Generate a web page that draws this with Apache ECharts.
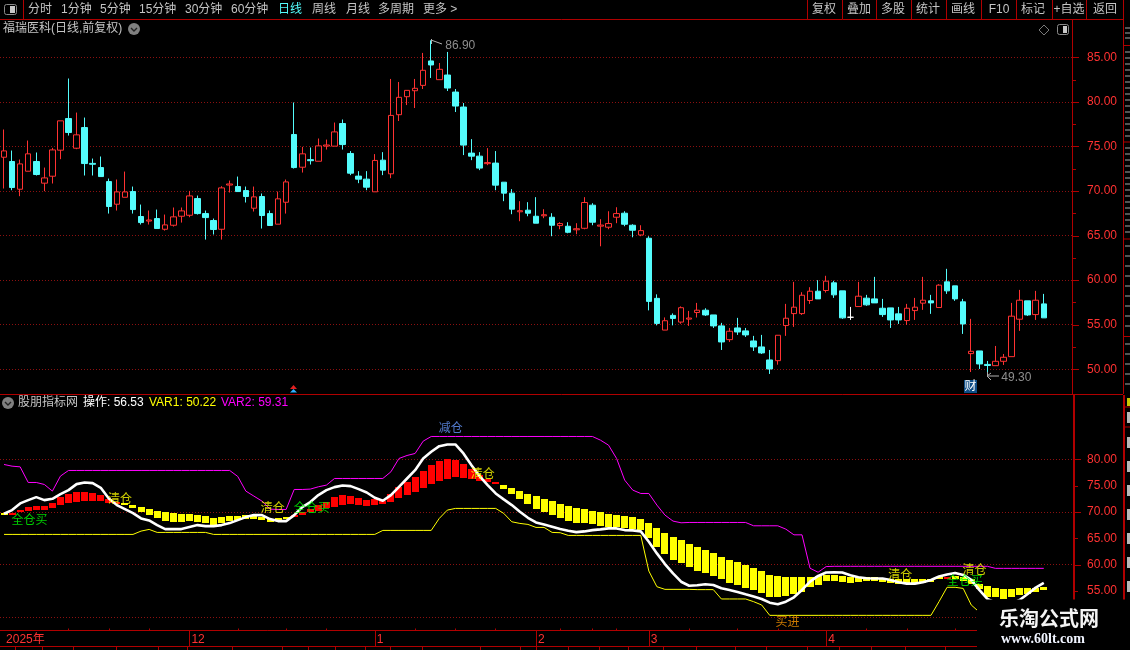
<!DOCTYPE html>
<html><head><meta charset="utf-8">
<style>html,body{margin:0;padding:0;background:#000}#c{width:1130px;height:650px}</style>
<script src="https://cdn.jsdelivr.net/npm/echarts@6/dist/echarts.min.js"></script>
</head><body><div id="c"></div>
<script>
const opens=[73.79,73.31,70.20,72.22,73.31,70.88,71.66,74.58,78.13,74.80,77.12,73.10,72.63,71.06,68.52,69.30,69.94,67.14,66.63,66.91,65.71,66.16,67.17,67.28,69.15,67.47,66.69,65.71,70.67,70.50,70.05,68.07,69.38,67.47,66.28,68.74,76.34,72.67,73.52,73.34,75.04,75.03,77.57,74.21,71.67,71.33,69.91,73.46,71.93,78.56,80.58,81.25,81.85,84.59,82.49,83.01,81.10,79.42,74.25,73.91,73.07,73.13,70.99,69.76,67.67,67.85,67.17,67.22,67.06,66.12,66.05,65.65,65.82,68.41,66.06,65.94,67.06,67.51,66.16,65.07,64.70,57.96,54.40,56.05,55.30,55.63,56.37,56.63,56.10,54.87,53.33,54.64,54.31,53.18,52.51,51.05,50.97,54.91,56.25,56.25,57.72,58.76,58.84,59.70,58.80,55.84,57.04,57.98,57.90,56.85,56.89,56.22,55.47,56.59,57.42,57.68,56.93,59.81,59.36,57.57,51.76,52.06,50.55,50.41,50.90,51.42,55.62,57.68,56.14,57.34];
const closes=[74.50,70.39,73.04,74.17,71.85,71.47,74.61,77.87,76.56,76.30,73.08,73.00,71.62,68.26,69.90,69.90,67.92,66.46,66.75,65.79,66.20,67.10,67.77,69.45,67.47,67.02,65.68,70.35,70.79,69.94,69.38,69.34,67.25,66.13,69.12,71.02,72.63,74.17,73.40,75.06,75.16,76.63,75.21,72.00,71.33,70.43,73.43,72.34,78.48,80.51,81.29,81.52,83.54,84.14,83.65,81.55,79.53,75.15,73.91,72.57,73.19,70.66,69.76,67.96,67.79,67.51,66.39,67.34,66.16,66.35,65.37,65.77,68.71,66.50,66.18,66.35,67.47,66.27,65.60,65.56,57.62,55.15,55.45,55.71,56.91,55.75,56.63,56.10,54.87,53.07,54.27,54.19,53.86,52.51,51.84,50.04,53.82,55.73,56.97,58.31,58.76,57.90,59.89,58.35,55.77,55.84,58.20,57.23,57.45,56.14,55.54,55.54,56.85,56.97,57.75,57.45,59.44,58.80,57.90,55.09,52.02,50.60,50.43,50.90,51.35,55.96,57.75,56.10,57.75,55.77];
const lows=[70.28,70.09,69.42,72.22,71.74,69.98,70.84,73.57,76.22,74.69,71.74,71.74,71.62,67.47,67.81,69.30,67.47,66.24,66.24,65.79,65.56,66.01,66.46,67.06,67.36,64.55,65.12,64.55,69.83,69.94,68.71,67.70,65.79,66.13,66.28,67.47,72.52,72.07,72.97,73.34,74.65,75.03,74.65,71.78,70.88,70.09,69.91,71.78,71.44,77.85,79.64,79.31,81.44,82.68,82.49,81.22,78.86,74.03,73.46,72.34,72.90,70.09,68.86,67.40,66.61,67.17,66.39,66.95,64.93,65.71,65.26,65.15,65.71,66.16,63.80,65.71,66.39,66.05,64.81,64.93,56.61,54.93,54.40,54.93,55.11,54.87,55.81,55.99,54.64,52.17,53.07,53.86,53.63,52.06,51.72,49.48,50.52,53.75,54.76,56.10,57.34,57.90,58.61,58.01,55.66,55.54,57.04,57.12,57.45,55.88,54.64,55.09,54.98,55.54,56.67,56.22,56.93,58.46,57.68,53.97,49.70,50.04,49.30,50.41,50.49,51.42,54.31,55.99,55.54,55.77];
const highs=[76.90,74.54,73.53,75.66,74.32,72.63,74.84,77.87,82.62,78.80,78.24,73.64,73.87,71.40,71.29,72.18,70.50,68.48,67.81,67.92,67.36,68.15,68.15,70.01,69.49,67.81,66.91,70.54,71.17,71.62,70.50,70.50,69.72,67.81,69.94,71.29,79.93,74.95,74.88,75.89,75.77,77.68,78.02,74.48,72.23,72.23,74.14,74.36,82.57,82.23,81.29,82.57,85.49,86.90,84.36,85.60,81.44,79.87,75.82,74.36,74.81,74.48,70.99,70.21,68.86,68.75,69.31,67.96,67.51,66.50,66.50,66.39,69.31,68.63,66.84,67.73,68.18,67.73,66.27,66.16,64.93,58.41,55.82,56.27,57.06,56.55,57.45,56.85,56.10,55.21,54.64,55.77,54.64,53.75,53.86,52.17,53.82,57.34,59.81,58.65,59.21,60.00,60.49,59.93,58.80,57.00,59.81,58.35,60.37,57.90,56.89,57.00,57.34,58.01,60.37,58.35,59.55,61.27,59.36,57.90,55.66,52.06,50.94,52.62,51.72,57.45,58.91,57.68,58.80,58.46];

const bandStart=[69.87,69.70,69.94,70.19,70.38,70.38,70.70,71.33,71.77,71.96,72.09,72.15,72.09,71.77,71.52,71.65,71.33,70.95,70.57,70.19,70.00,69.81,69.62,69.62,69.43,69.24,68.86,69.05,69.24,69.24,69.43,69.43,69.11,68.73,68.86,69.05,69.05,69.43,70.00,70.25,70.76,70.95,71.33,71.52,71.33,71.14,71.33,71.52,71.90,72.66,73.23,73.80,74.56,75.32,75.89,76.27,76.65,76.46,76.27,75.89,75.70,75.32,75.13,74.56,73.99,73.42,73.04,72.47,72.09,71.52,71.14,70.76,70.57,70.19,70.00,69.62,69.43,69.24,69.05,68.67,67.91,66.96,66.01,65.25,64.68,63.92,63.40,62.83,62.25,61.49,60.92,60.54,59.97,59.40,58.83,58.06,57.87,57.68,57.68,57.68,57.68,57.87,58.06,58.06,57.87,57.68,57.68,57.68,57.68,57.49,57.20,57.20,57.20,57.30,57.20,57.30,57.70,57.34,57.80,57.70,57.30,56.39,55.95,55.63,55.44,55.44,55.57,55.57,55.63,55.76];
const bandEnd=[69.68,69.83,70.38,71.00,71.14,71.14,71.77,72.91,73.42,73.73,73.73,73.60,73.23,72.47,71.84,71.40,70.76,70.00,69.43,68.86,68.29,68.10,68.10,68.29,68.10,67.91,67.53,67.91,68.29,68.48,68.67,68.67,68.48,68.10,68.29,68.67,69.43,70.06,70.57,71.33,71.96,72.85,73.23,73.04,72.66,72.28,72.47,72.09,73.42,74.75,75.70,76.65,77.78,78.92,79.68,80.06,79.87,79.11,78.16,77.03,76.27,75.70,74.37,73.42,72.47,71.52,70.57,70.00,69.43,68.86,68.29,67.91,67.91,67.72,67.34,67.15,67.15,66.96,66.77,66.58,65.06,63.35,62.03,60.89,60.32,59.56,58.83,58.44,57.87,57.30,56.54,56.16,55.59,55.21,54.63,53.87,53.87,54.06,54.44,54.81,55.78,56.16,56.92,56.92,56.73,56.54,56.73,56.92,56.92,56.73,56.50,56.40,56.40,56.40,56.50,56.70,57.20,57.60,57.30,56.90,56.40,55.44,53.86,53.86,53.42,53.86,54.30,54.50,54.81,55.13];

const mainLine=[69.68,70.38,71.65,72.28,72.85,72.28,72.53,73.42,74.18,75.32,75.63,75.51,74.62,72.59,71.33,70.57,69.81,68.80,68.42,67.53,66.77,66.77,66.77,67.15,67.53,67.34,67.34,67.53,67.91,68.48,69.05,69.43,69.43,68.67,68.29,68.29,69.43,70.95,71.90,73.23,74.18,74.75,75.06,74.94,74.37,73.73,72.72,72.15,73.23,74.81,76.39,77.97,80.19,81.46,82.53,82.85,82.85,81.14,78.92,76.84,75.13,73.54,72.41,71.33,70.06,68.92,68.04,67.66,67.22,66.77,66.46,66.20,66.33,66.58,66.71,66.90,66.90,66.58,66.52,66.33,64.37,62.15,60.13,58.35,56.77,56.01,56.10,56.29,56.16,55.52,55.21,54.83,54.38,53.94,53.49,52.79,52.48,52.98,53.81,55.21,56.79,57.87,58.51,58.57,58.51,58.00,57.62,57.43,57.37,57.37,57.11,56.67,56.41,56.41,56.67,57.11,57.75,58.13,58.44,58.06,57.11,55.21,53.49,52.80,52.30,52.60,53.30,54.44,55.65,56.53];
const var1Line=[65.76,65.76,65.76,65.76,65.76,65.76,65.76,65.76,65.76,65.76,65.76,65.76,65.76,65.76,65.76,65.76,65.76,66.39,66.71,66.14,66.14,66.14,66.14,66.14,66.14,66.14,65.76,65.76,65.76,65.76,65.76,65.76,65.76,65.76,65.76,65.76,65.76,65.76,65.76,65.76,65.76,65.76,65.76,65.76,65.76,65.76,65.76,66.52,66.52,66.52,66.52,66.52,66.52,66.52,68.80,70.38,70.70,70.70,70.70,70.70,70.70,70.70,69.75,68.16,67.85,67.66,67.09,67.09,66.14,66.08,65.57,65.57,65.57,65.57,65.57,65.57,65.57,65.57,65.57,65.57,58.80,55.82,55.32,55.32,55.32,55.32,55.27,55.27,55.27,53.49,53.49,53.49,53.49,52.98,52.35,50.38,50.38,50.38,50.38,50.38,50.38,50.38,50.38,50.38,50.38,50.38,50.38,50.38,50.38,50.38,50.38,50.38,50.38,50.38,50.38,50.38,52.98,55.71,55.71,55.50,52.35,51.00,50.22,50.22,50.22,50.22,50.22,50.22,50.22,50.22];
const var2Line=[79.05,78.73,78.60,75.63,75.63,75.25,73.99,76.84,77.91,77.91,77.91,77.91,77.91,77.91,77.91,77.91,77.91,77.91,77.91,77.91,77.91,77.91,77.91,77.91,77.91,77.91,77.91,77.91,77.91,76.77,73.99,73.04,72.09,70.57,70.50,70.50,74.30,74.30,74.37,74.81,75.13,76.39,76.39,76.39,76.39,76.39,76.39,76.39,77.66,80.19,80.76,81.14,83.48,84.37,84.37,84.37,84.37,84.37,84.37,84.37,84.37,84.37,84.37,84.37,84.37,84.37,84.37,84.37,84.37,84.37,84.37,84.37,84.37,84.37,83.67,82.72,80.19,76.08,74.18,73.54,73.54,71.33,69.43,68.29,67.97,68.03,68.03,68.03,68.03,68.03,68.03,68.03,68.03,67.40,67.40,67.40,67.40,66.76,65.68,65.68,59.33,58.57,59.65,59.70,59.70,59.70,59.70,59.70,59.70,59.70,59.70,59.70,59.70,59.70,59.70,59.70,59.70,59.70,59.70,59.70,59.70,59.70,59.70,59.31,59.31,59.31,59.31,59.31,59.31,59.31];

const signalText=['全仓买','清仓','清仓','全仓买','减仓','清仓','买进','清仓','清仓','全仓买'];
const signalBar=[3.16,14.38,33.35,38.19,55.43,59.4,97.2,111.2,120.4,119.2];
const signalValue=[68.67,72.65,70.94,70.94,86.13,77.4,49.3,58.22,59.17,57.1];
const signalColor={'全仓买':'#00ff00','清仓':'#ffff00','减仓':'#6699ff','买进':'#ff9900'};

const monthLabels={0:'2025年',23:'12',46:'1',66:'2',80:'3',102:'4'};
const weekTicks=[8,13,18,29,35,40,51,56,61,69,73,76,85,91,96,107,112,118];
const priceTicks=[50,55,60,65,70,75,80,85];
const priceMinor=[52.5,57.5,62.5,67.5,72.5,77.5,82.5];
const indLabels=[55,60,65,70,75,80];
const indDotted=[50,60,70,80];
const indShort=[55,65,75];
const categories=Array.from({length:133},(_,i)=>String(i));

const RED='#ff3232',CY='#54fcfc',AX='#b00000',DOT='#8c1010',GR='#c4c4c4';
const FF='"Liberation Sans","Noto Sans CJK SC",sans-serif';
const F12='12px '+FF;

const g=[];
const ln=(x1,y1,x2,y2,c,w,z)=>g.push({type:'line',silent:true,z:z||50,shape:{x1,y1,x2,y2},style:{stroke:c||AX,lineWidth:w||1}});
const tx=(text,x,y,c,font,align,z)=>g.push({type:'text',silent:true,z:z||60,style:{text,x,y,fill:c||GR,font:font||F12,textAlign:align||'left',textVerticalAlign:'middle'}});
const rc=(x,y,width,height,fill,stroke,r,z)=>g.push({type:'rect',silent:true,z:z||55,shape:{x,y,width,height,r:r||0},style:{fill:fill||'none',stroke:stroke||'none',lineWidth:1}});

// frame
ln(0,19.5,1123,19.5);ln(23.5,0,23.5,19);
ln(0,394.5,1123,394.5);
ln(1072.5,20,1072.5,394);ln(1074,395,1074,630,AX,2);
ln(1123.5,0,1123.5,394);ln(1124,395,1124,630,AX,2);
ln(0,646.5,978,646.5);
[807,842,876,911,946,981,1016,1052,1086].forEach(x=>ln(x+.5,0,x+.5,19));
[15,42,73,116,158,187,232,282,308,335,365,390,422,480,520,536,568,599,628,663,696,735,766,807,839,871,905,945].forEach(x=>ln(x+.5,647,x+.5,650));
// axis ticks (frame furniture on the price and indicator scales)
const topY=v=>Math.round(35+(87.5-v)*356.6/40)+.5;
const lowY=v=>Math.round(393.7+(92.5-v)*236.8/45)+.5;
priceTicks.forEach(v=>ln(1073,topY(v),1079,topY(v)));
priceMinor.forEach(v=>ln(1073,topY(v),1076,topY(v)));
indDotted.forEach(v=>ln(1075,lowY(v),1081,lowY(v)));
indShort.forEach(v=>ln(1075,lowY(v),1078,lowY(v)));
// toolbar
[['分时',28],['1分钟',61],['5分钟',100],['15分钟',139],['30分钟',185],['60分钟',231],['周线',312],['月线',346],['多周期',378],['更多 >',423]].forEach(a=>tx(a[0],a[1],10));
tx('日线',278,10,CY);
[['复权',824],['叠加',859],['多股',893],['统计',928],['画线',963],['F10',999],['标记',1033],['+自选',1069],['返回',1105]].forEach(a=>tx(a[0],a[1],10,GR,F12,'center'));
rc(4.5,4.5,12,10,'#000','#8a8a8a',2);rc(10,6,5,7,'#c8c8c8');
rc(1057.5,24.5,11,10,'#000','#8a8a8a',2);rc(1063,26,4,7,'#c8c8c8');
g.push({type:'polygon',silent:true,z:55,shape:{points:[[1044,25],[1049,30],[1044,35],[1039,30]]},style:{fill:'none',stroke:'#7a7a7a'}});
// title rows
tx('福瑞医科(日线,前复权)',3,29);
const circ=(cx,cy)=>{g.push({type:'circle',silent:true,z:55,shape:{cx,cy,r:6},style:{fill:'#808080'}});
 g.push({type:'polyline',silent:true,z:56,shape:{points:[[cx-3,cy-1],[cx,cy+2],[cx+3,cy-1]]},style:{fill:'none',stroke:'#222',lineWidth:1.4}});};
circ(134,29);circ(8,403);
tx('股朋指标网',18,403);tx('操作: 56.53',83,403,'#ffffff');tx('VAR1: 50.22',149,403,'#ffff00');tx('VAR2: 59.31',221,403,'#ff00ff');
// extreme arrows
ln(431.5,39,431.5,44,'#b0b0b0');ln(431,40,442,44,'#b0b0b0');
ln(987.5,372,987.5,376,'#b0b0b0');ln(987,376,999,376,'#b0b0b0');ln(987,376,991,373,'#b0b0b0');ln(987,376,991,380,'#b0b0b0');
// markers
rc(964,380,13,13,'#0f4d86');tx('财',970.5,386.5,'#ffffff',F12,'center',60);
g.push({type:'polygon',silent:true,z:55,shape:{points:[[293.5,385],[297,389],[290,389]]},style:{fill:'#e02020'}});
g.push({type:'polygon',silent:true,z:55,shape:{points:[[293.5,389],[297,392.5],[290,392.5]]},style:{fill:'#30b0ff'}});
// right hand clipped column
[45.5,142,239,336.5,407,427].forEach(y=>ln(1124,y,1130,y));
for(const y of [28,33,38,52,58,64,70,76,82,88,94,100,106,112,118,124,130,136,148,154,160,166,172,178,184,190,196,202,208,214,220,226,232,246,256,266,276,286,296,306,316,326,344,354,364,374,384])ln(1125,y,1130,y,'#a8a8a8',1);
rc(1127,398,3,8,'#c8c800');
for(const y of [412,437,461,485,509,533,557,581])rc(1127,y,3,11,'#b8b8b8');
// watermark
rc(977,599.5,153,51,'#000','none',0,90);
tx('乐淘公式网',999,618,'#f4f4f4','bold 20px "Noto Sans CJK SC"','left',92);
tx('www.60lt.com',1001,639,'#f0f4ff','bold 14px "Liberation Serif"','left',92);

const chart=echarts.init(document.getElementById('c'),null,{renderer:'canvas'});
const candleData=opens.map((o,i)=>[o,closes[i],lows[i],highs[i]]);
const bandData=bandStart.map((a,i)=>[i,a,bandEnd[i]]);
const dotted={show:true,lineStyle:{color:DOT,type:[1,2],width:1}};
const lineS=(name,data,color,width,z)=>({name,type:'line',xAxisIndex:1,yAxisIndex:2,data,symbol:'none',z,lineStyle:{color,width},itemStyle:{color},silent:true,animation:false});
const noLine={show:false,onZero:false};

chart.setOption({
 animation:false,backgroundColor:'#000',
 graphic:{elements:g},
 grid:[{left:0,width:1072,top:35,height:356.6},{left:0,width:1072,top:393.7,height:236.8}],
 xAxis:[
  {type:'category',gridIndex:0,data:categories,show:false},
  {type:'category',gridIndex:1,position:'bottom',data:categories,
   axisLine:{onZero:false,lineStyle:{color:AX,width:1}},
   axisTick:{show:true,alignWithLabel:true,length:16,interval:i=>i!==0&&monthLabels[i]!==undefined,lineStyle:{color:AX}},
   axisLabel:{show:true,interval:i=>monthLabels[i]!==undefined,formatter:(v,i)=>monthLabels[i]||'',color:RED,align:'left',margin:3,padding:[0,0,0,2],fontSize:12,fontFamily:FF,hideOverlap:false}},
  {type:'category',gridIndex:1,position:'top',offset:-236.8,data:categories,
   axisLine:noLine,axisLabel:{show:false},
   axisTick:{show:true,alignWithLabel:true,length:2,interval:i=>weekTicks.includes(i),lineStyle:{color:AX}}},
  {type:'value',gridIndex:1,min:-0.5,max:132.5,show:false}
 ],
 yAxis:[
  {type:'value',gridIndex:0,position:'right',min:47.5,max:87.5,
   axisLine:noLine,
   axisTick:{show:false,customValues:priceTicks},
   axisLabel:{show:true,customValues:priceTicks,color:RED,margin:15,fontSize:12,fontFamily:FF,formatter:v=>v.toFixed(2)},
   splitLine:dotted},
  {type:'value',gridIndex:1,position:'right',min:47.5,max:92.5,
   axisLine:noLine,splitLine:{show:false},
   axisTick:{show:false,customValues:indShort},
   axisLabel:{show:true,customValues:indLabels,color:RED,margin:15,fontSize:12,fontFamily:FF,formatter:v=>v.toFixed(2)}},
  {type:'value',gridIndex:1,position:'left',offset:-1072,min:47.5,max:92.5,
   axisLine:noLine,axisLabel:{show:false},
   axisTick:{show:false,customValues:indDotted},
   splitLine:dotted}
 ].map((a,i)=>a),
 series:[
  {name:'K线',type:'candlestick',xAxisIndex:0,yAxisIndex:0,data:candleData,barWidth:6,silent:true,
   itemStyle:{color:'#000000',color0:CY,borderColor:RED,borderColor0:CY,borderColorDoji:'#ffffff',borderWidth:1}},
  {name:'极值',type:'scatter',xAxisIndex:0,yAxisIndex:0,symbolSize:0,silent:true,
   data:[{value:[53,86.90],label:{formatter:'86.90',offset:[9,5]}},{value:[122,49.30],label:{formatter:'49.30',offset:[9,2]}}],
   label:{show:true,position:'right',color:'#b0b0b0',fontSize:12,fontFamily:FF}},
  {name:'带',type:'custom',xAxisIndex:1,yAxisIndex:1,data:bandData,silent:true,z:2,clip:false,
   encode:{x:0,y:[1,2]},
   renderItem:(params,api)=>{
     const s=api.value(1),e=api.value(2);
     const a=api.coord([api.value(0),s]),b=api.coord([api.value(0),e]);
     const y1=Math.round(Math.min(a[1],b[1])),y2=Math.max(y1+2,Math.round(Math.max(a[1],b[1])));
     return {type:'rect',shape:{x:Math.round(a[0]-3.5),y:y1,width:7,height:y2-y1},style:{fill:e>s?'#ff0000':'#ffff00'}};
   }},
  {...lineS('VAR1',var1Line,'#ffff00',1,3),yAxisIndex:1},
  {...lineS('VAR2',var2Line,'#ff00ff',1,3),yAxisIndex:1},
  {...lineS('操作',mainLine,'#ffffff',2.6,4),yAxisIndex:1},
  {name:'信号',type:'scatter',xAxisIndex:3,yAxisIndex:1,symbolSize:0,silent:true,z:6,
   data:signalText.map((t,i)=>({value:[signalBar[i],signalValue[i]],label:{formatter:t,color:signalColor[t]}})),
   label:{show:true,position:'inside',fontSize:12,fontFamily:'"Noto Sans CJK SC"'}}
 ]
});
</script></body></html>
